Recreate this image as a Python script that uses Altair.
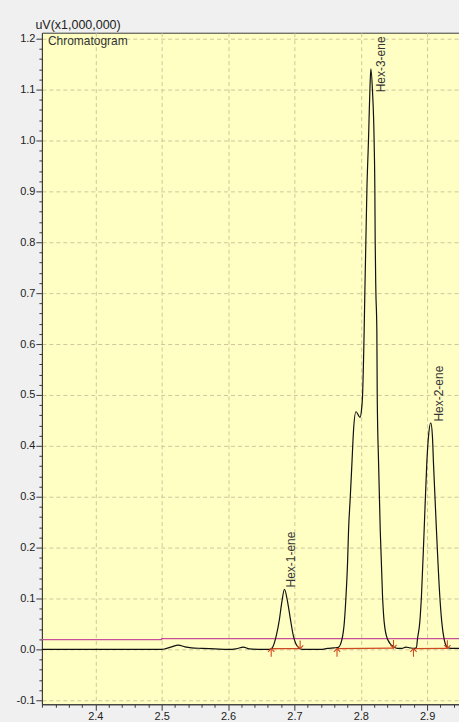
import altair as alt
import pandas as pd

# ---------------- data ----------------
time = [2.320, 2.400, 2.500, 2.505, 2.515, 2.525, 2.535, 2.545, 2.560, 2.580,
        2.600, 2.612, 2.623, 2.632, 2.650, 2.662,
        2.6665, 2.6725, 2.6774, 2.6809, 2.6850, 2.6899, 2.6940, 2.6985, 2.7065,
        2.712, 2.740, 2.750, 2.760,
        2.7662, 2.7717, 2.7752, 2.7777, 2.7801, 2.7816, 2.7842, 2.7867, 2.7891,
        2.7927, 2.7988, 2.8011, 2.8026, 2.8051, 2.8062, 2.8077, 2.8092, 2.8116,
        2.8137, 2.8152, 2.8176, 2.8201, 2.8212, 2.8217, 2.8227, 2.8242, 2.8248,
        2.8268, 2.8293, 2.8328, 2.8353, 2.8403, 2.8504, 2.8549,
        2.862, 2.868, 2.874, 2.880,
        2.8839, 2.8854, 2.8889, 2.8914, 2.8955, 2.8995, 2.9020, 2.9055, 2.9080,
        2.9095, 2.9140, 2.9191, 2.9221, 2.9256, 2.9305, 2.936, 2.948]
signal = [0.000, 0.000, 0.000, 0.001, 0.005, 0.0085, 0.005, 0.003, 0.002, 0.001,
          0.000, 0.001, 0.0045, 0.001, 0.000, 0.000,
          0.003, 0.026, 0.059, 0.092, 0.118, 0.092, 0.059, 0.026, 0.003,
          0.000, 0.000, 0.002, 0.003,
          0.004, 0.020, 0.053, 0.104, 0.171, 0.235, 0.300, 0.367, 0.431,
          0.467, 0.456, 0.471, 0.497, 0.627, 0.706, 0.804, 0.902, 1.000,
          1.098, 1.141, 1.098, 1.000, 0.902, 0.804, 0.706, 0.627, 0.496,
          0.367, 0.235, 0.104, 0.053, 0.020, 0.004, 0.002,
          0.002, 0.0045, 0.003, 0.002,
          0.004, 0.020, 0.053, 0.104, 0.235, 0.367, 0.418, 0.445, 0.418,
          0.367, 0.235, 0.104, 0.053, 0.020, 0.004, 0.002, 0.002]

ref_time = [2.3195, 2.500, 2.500, 2.948]
ref_level = [0.019, 0.019, 0.021, 0.021]

peak_names = ["Hex-1-ene", "Hex-3-ene", "Hex-2-ene"]
label_time = [2.6955, 2.8303, 2.9180]
label_level = [0.1216, 1.0947, 0.4477]

base_start = [2.6650, 2.7642, 2.8794]
base_end = [2.7086, 2.8493, 2.9305]
base_level_start = [0.0015, 0.0015, 0.0015]
base_level_end = [0.0015, 0.0025, 0.0020]

x_tick_values = [round(2.32 + 0.02 * i, 2) for i in range(32)]
y_tick_values = [round(-0.10 + 0.02 * i, 2) for i in range(66)]

y_title = "uV(x1,000,000)"
panel_title = "Chromatogram"

# ---------------- styling ----------------
FONT = "Liberation Sans"
RED = "#D04A20"
PINK = "#C8509A"
AXIS_COLOR = "#3A3A3A"
X_DOMAIN = [2.3195, 2.948]
Y_DOMAIN = [-0.1078, 1.2118]
ARROW = 0.016

major = "abs(datum.value*10 - round(datum.value*10)) < 0.001"
common_axis = dict(
    grid=True,
    gridColor="#CFC79A",
    gridDash=[4, 3],
    gridOpacity={"condition": {"test": major, "value": 1}, "value": 0},
    tickSize={"condition": {"test": major, "value": 6}, "value": 3},
    tickColor=AXIS_COLOR,
    domainColor=AXIS_COLOR,
    labelFont=FONT,
    labelFontSize=11,
    labelColor="#222222",
    labelOverlap=False,
    labelFlush=False,
    labelExpr=f"{major} ? replace(format(datum.value, '.1f'), '\u2212', '-') : ''",
)
x_axis = alt.Axis(values=x_tick_values, title=None, labelPadding=0, **common_axis)
y_axis = alt.Axis(values=y_tick_values, title=y_title, titleAngle=0, titleAlign="left",
                  titleBaseline="alphabetic", titleX=-7, titleY=-4, titleFont=FONT,
                  titleFontSize=12.5, titleFontWeight="normal", titleColor="#222222",
                  labelPadding=1, **common_axis)
xs = alt.Scale(domain=X_DOMAIN, nice=False, zero=False)
ys = alt.Scale(domain=Y_DOMAIN, nice=False, zero=False)


def X(f):
    return alt.X(f, type="quantitative", scale=xs, axis=x_axis)


def Y(f):
    return alt.Y(f, type="quantitative", scale=ys, axis=y_axis)


trace_df = pd.DataFrame({"t": time, "v": signal})
ref_df = pd.DataFrame({"t": ref_time, "v": ref_level})
lab_df = pd.DataFrame({"t": label_time, "v": label_level, "name": peak_names})
base_df = pd.DataFrame({"t": base_start, "t1": base_end,
                        "v": base_level_start, "v1": base_level_end})
start_df = pd.DataFrame({"t": base_start, "v": base_level_start})
start_df["v2"] = start_df["v"] - ARROW
end_df = pd.DataFrame({"t": base_end, "v": base_level_end})
end_df["v2"] = end_df["v"] + ARROW

ref_line = alt.Chart(ref_df).mark_line(color=PINK, strokeWidth=1.3, clip=True).encode(
    x=X("t"), y=Y("v"))
trace = alt.Chart(trace_df).mark_line(color="#111111", strokeWidth=1.2,
                                      interpolate="monotone", clip=True).encode(
    x=X("t"), y=Y("v"))
base = alt.Chart(base_df).mark_rule(color=RED, strokeWidth=1.2, clip=True).encode(
    x=X("t"), x2="t1", y=Y("v"), y2="v1")
start_stem = alt.Chart(start_df).mark_rule(color=RED, strokeWidth=1.1).encode(
    x=X("t"), y=Y("v"), y2="v2")
end_stem = alt.Chart(end_df).mark_rule(color=RED, strokeWidth=1.1).encode(
    x=X("t"), y=Y("v"), y2="v2")
start_head = alt.Chart(start_df).mark_point(shape="M-1,1L0,0L1,1", filled=False, size=40,
                                            color=RED, strokeWidth=1.1, opacity=1).encode(
    x=X("t"), y=Y("v"))
end_head = alt.Chart(end_df).mark_point(shape="M-1,-1L0,0L1,-1", filled=False, size=40,
                                        color=RED, strokeWidth=1.1, opacity=1).encode(
    x=X("t"), y=Y("v"))
labels = alt.Chart(lab_df).mark_text(angle=270, align="left", baseline="middle",
                                     font=FONT, fontSize=12, color="#333333").encode(
    x=X("t"), y=Y("v"), text="name:N")
title_txt = alt.Chart(pd.DataFrame({"label": [panel_title]})).mark_text(
    align="left", baseline="middle", font=FONT, fontSize=12, color="#333333").encode(
    x=alt.value(6), y=alt.value(8), text="label:N")

chart = alt.layer(ref_line, base, trace, start_stem, end_stem, start_head, end_head,
                  labels, title_txt).properties(
    width=418, height=673,
    padding={"left": 42, "top": 32, "right": 0, "bottom": 17},
    autosize=alt.AutoSizeParams(type="none"),
    background="#F0F0F0",
).configure_view(fill="#FFFFC4", stroke=AXIS_COLOR, strokeWidth=1)

chart.save("out.html", embed_options={"renderer": "svg", "actions": False})
